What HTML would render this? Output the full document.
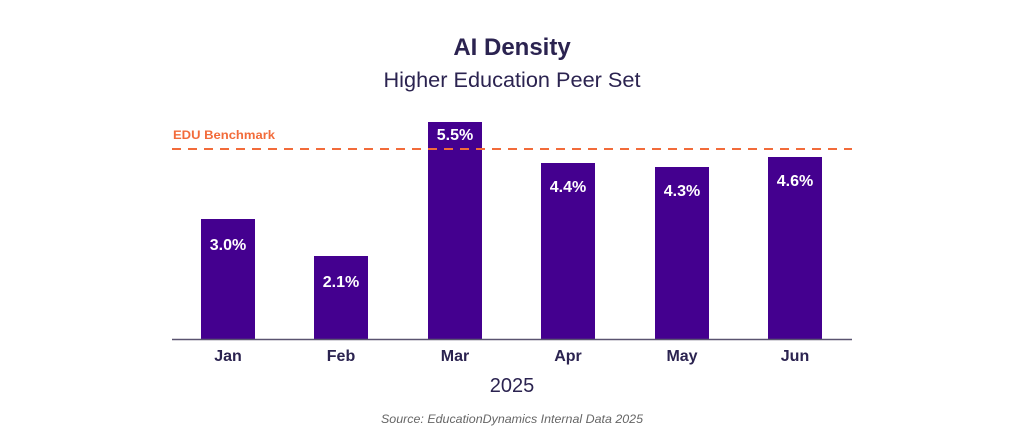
<!DOCTYPE html>
<html><head><meta charset="utf-8"><style>
html,body{margin:0;padding:0;background:#fff;}
svg{display:block;}
</style></head><body>
<svg width="1024" height="428" xmlns="http://www.w3.org/2000/svg" font-family="Liberation Sans, sans-serif">
<rect width="1024" height="428" fill="#fff"/>
<text x="512" y="55" text-anchor="middle" font-size="24" font-weight="bold" fill="#2b2350">AI Density</text>
<text x="512" y="87" text-anchor="middle" font-size="21" fill="#2b2350" textLength="257" lengthAdjust="spacingAndGlyphs">Higher Education Peer Set</text>
<text x="173" y="139" font-size="12" font-weight="bold" fill="#f26b3a" textLength="102" lengthAdjust="spacingAndGlyphs">EDU Benchmark</text>
<g fill="#44008f">
<rect x="201" y="219" width="54" height="120"/>
<rect x="314" y="256" width="54" height="83"/>
<rect x="428" y="122" width="54" height="217"/>
<rect x="541" y="163" width="54" height="176"/>
<rect x="655" y="167" width="54" height="172"/>
<rect x="768" y="157" width="54" height="182"/>
</g>
<line x1="172" y1="149" x2="852" y2="149" stroke="#f26b3a" stroke-width="2" stroke-dasharray="9,7"/>
<line x1="172" y1="339.5" x2="852" y2="339.5" stroke="#5a5470" stroke-width="1.5"/>
<g font-size="16" font-weight="bold" fill="#fff" text-anchor="middle">
<text x="228" y="250">3.0%</text>
<text x="341" y="287">2.1%</text>
<text x="455" y="140">5.5%</text>
<text x="568" y="192">4.4%</text>
<text x="682" y="196">4.3%</text>
<text x="795" y="186">4.6%</text>
</g>
<g font-size="16" font-weight="bold" fill="#2b2350" text-anchor="middle">
<text x="228" y="361">Jan</text>
<text x="341" y="361">Feb</text>
<text x="455" y="361">Mar</text>
<text x="568" y="361">Apr</text>
<text x="682" y="361">May</text>
<text x="795" y="361">Jun</text>
</g>
<text x="512" y="392" text-anchor="middle" font-size="20" fill="#2b2350">2025</text>
<text x="512" y="423" text-anchor="middle" font-size="12" font-style="italic" fill="#666" textLength="262" lengthAdjust="spacingAndGlyphs">Source: EducationDynamics Internal Data 2025</text>
</svg>
</body></html>
